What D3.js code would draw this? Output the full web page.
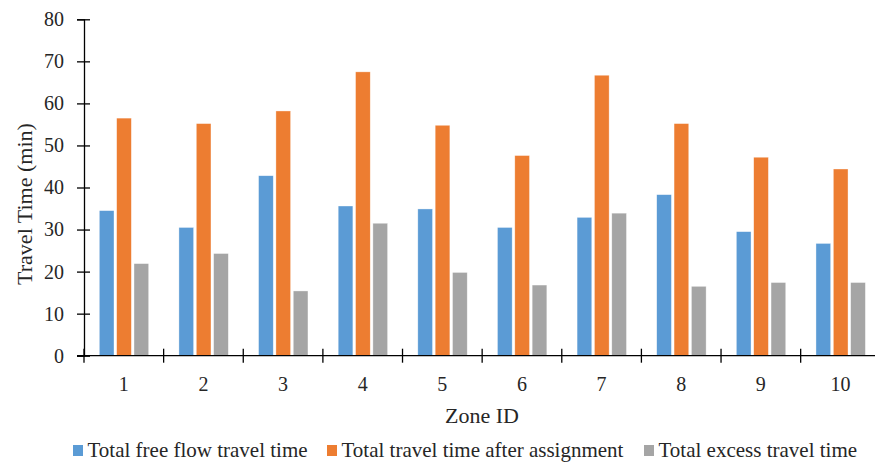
<!DOCTYPE html>
<html>
<head>
<meta charset="utf-8">
<script src="https://cdn.jsdelivr.net/npm/d3@7"></script>
<style>
  html, body { margin: 0; padding: 0; background: #fff; }
  svg text { font-family: "Liberation Serif", "DejaVu Serif", serif; }
</style>
</head>
<body>
<svg id="chart" width="875" height="463"></svg>
<script>
// Zone-level travel times (minutes)
const zones = ["1", "2", "3", "4", "5", "6", "7", "8", "9", "10"];
const freeFlow = [34.5, 30.5, 42.8, 35.6, 34.9, 30.5, 32.9, 38.3, 29.5, 26.7];
const afterAssignment = [56.5, 55.2, 58.2, 67.5, 54.8, 47.6, 66.7, 55.2, 47.2, 44.4];
const excess = [21.9, 24.3, 15.4, 31.5, 19.8, 16.8, 33.9, 16.5, 17.4, 17.4];
const seriesNames = ["Total free flow travel time", "Total travel time after assignment", "Total excess travel time"];
const seriesColors = ["#5B9BD5", "#ED7D31", "#A5A5A5"];
const yTicks = [0, 10, 20, 30, 40, 50, 60, 70, 80];

const seriesValues = [freeFlow, afterAssignment, excess];
const rows = zones.map((z, i) => ({ zone: z, values: seriesValues.map(s => s[i]) }));

const svg = d3.select("#chart");
const textColor = "#262626";
const serif = "'Liberation Serif', 'DejaVu Serif', serif";

const x0 = d3.scaleBand().domain(zones).range([84, 880.3]).paddingInner(0).paddingOuter(0);
const x1 = d3.scaleBand().domain(d3.range(3)).range([15.3, 64.7]).paddingInner(0.153).paddingOuter(0);
const y = d3.scaleLinear().domain([0, 80]).range([355.7, 19.3]);

// Bars
const groups = svg.append("g").selectAll("g")
  .data(rows).join("g")
  .attr("transform", d => `translate(${x0(d.zone)},0)`);

groups.selectAll("rect")
  .data(d => d.values.map((v, k) => ({ k, v })))
  .join("rect")
  .attr("x", d => x1(d.k))
  .attr("width", x1.bandwidth())
  .attr("y", d => y(d.v))
  .attr("height", d => y(0) - y(d.v))
  .attr("fill", d => seriesColors[d.k])
  .attr("stroke", "#fff")
  .attr("stroke-opacity", 0.6)
  .attr("stroke-width", 0.6);

// Y axis
const yAxis = svg.append("g")
  .attr("transform", `translate(${x0.range()[0]},0)`)
  .call(d3.axisLeft(y).tickValues(yTicks).tickSize(7).tickPadding(13))
  .attr("font-family", serif)
  .attr("font-size", 20);
yAxis.select(".domain").attr("stroke", "#000").attr("stroke-width", 1.3);
yAxis.selectAll(".tick line").attr("x1", -7).attr("x2", 6).attr("stroke", "#000").attr("stroke-width", 1.3);
yAxis.selectAll(".tick text").attr("fill", textColor);

// X axis: labels centred in each band, ticks on band boundaries
const xAxis = svg.append("g")
  .attr("transform", `translate(0,${y(0)})`)
  .call(d3.axisBottom(x0).tickSize(0).tickPadding(21))
  .attr("font-family", serif)
  .attr("font-size", 20);
xAxis.select(".domain").attr("stroke", "#000").attr("stroke-width", 1.3).attr("d", `M77,0H${x0.range()[1]}`);
xAxis.selectAll(".tick text").attr("fill", textColor);

const boundaries = zones.map(z => x0(z)).concat([x0.range()[1]]);
xAxis.append("g").selectAll("line")
  .data(boundaries).join("line")
  .attr("x1", d => d).attr("x2", d => d)
  .attr("y1", -7).attr("y2", 7)
  .attr("stroke", "#000").attr("stroke-width", 1.3);

// Axis titles
svg.append("text")
  .attr("transform", `translate(32,204) rotate(-90)`)
  .attr("text-anchor", "middle")
  .attr("fill", textColor)
  .attr("font-family", serif)
  .attr("font-size", 22)
  .text("Travel Time (min)");

svg.append("text")
  .attr("x", 482)
  .attr("y", 423)
  .attr("text-anchor", "middle")
  .attr("fill", textColor)
  .attr("font-family", serif)
  .attr("font-size", 22)
  .text("Zone ID");

// Legend
const legendX = [73, 327, 644];
const legend = svg.append("g").selectAll("g")
  .data(seriesNames.map((n, k) => ({ n, k })))
  .join("g")
  .attr("transform", d => `translate(${legendX[d.k]},0)`);
legend.append("rect")
  .attr("x", 0).attr("y", 445).attr("width", 10).attr("height", 11)
  .attr("fill", d => seriesColors[d.k]);
legend.append("text")
  .attr("x", 14.5).attr("y", 456.5)
  .attr("fill", textColor)
  .attr("font-family", serif)
  .attr("font-size", 21)
  .text(d => d.n);
</script>
</body>
</html>
